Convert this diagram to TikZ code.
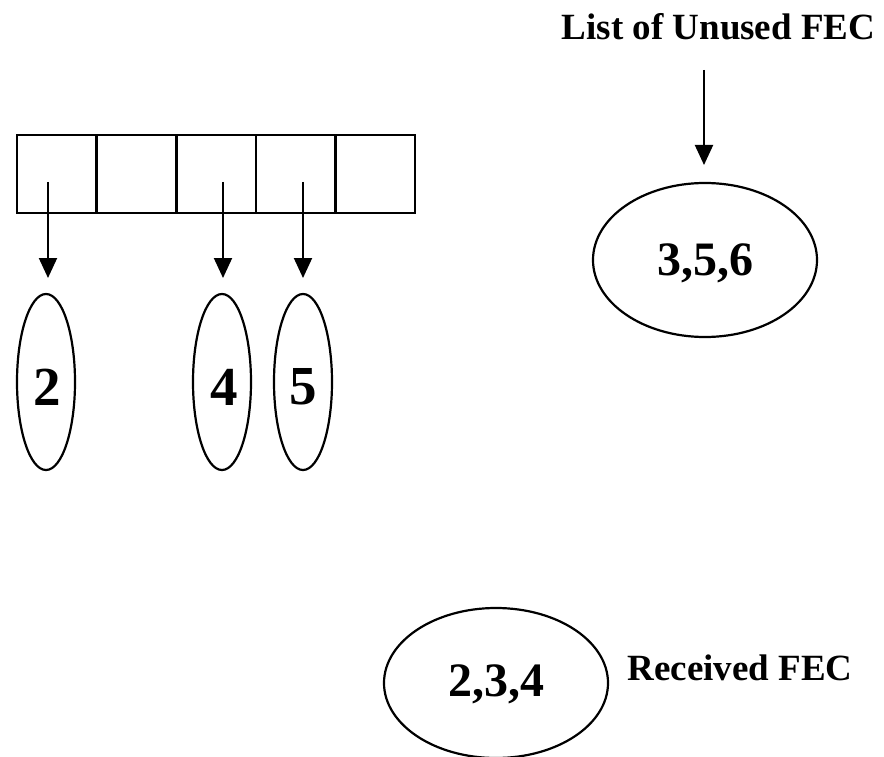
\documentclass[tikz,border=0pt]{standalone}
\usepackage{fontspec}
\setmainfont{Liberation Serif}
\usetikzlibrary{shapes.geometric,arrows.meta}
\begin{document}
\begin{tikzpicture}[x=1pt,y=1pt,
  cell/.style={draw,line width=2.6pt,minimum width=79.6pt,minimum height=78pt,inner sep=0pt},
  oval/.style={draw,ellipse,line width=2.2pt,inner sep=0pt},
  tall/.style={oval,minimum width=58pt,minimum height=176pt},
  wide/.style={oval,minimum width=224pt,minimum height=154pt},
  arr/.style={line width=2pt,-{Triangle[length=20pt,width=18pt]}},
  lbl/.style={font=\fontsize{37}{40}\selectfont\bfseries,inner sep=0pt},
  digit/.style={font=\fontsize{55}{58}\selectfont\bfseries,inner sep=0pt},
  trio/.style={font=\fontsize{48}{50}\selectfont\bfseries,inner sep=0pt}]
\useasboundingbox (0,0) rectangle (884,-757);
% array of cells
\foreach \i/\x in {1/56.8,2/136.4,3/216,4/295.6,5/375.2}
  \node[cell] (c\i) at (\x,-174) {};
% small ellipses
\node[tall] (e2) at (46,-382) {};
\node[tall] (e4) at (222,-382) {};
\node[tall] (e5) at (303,-382) {};
\node[digit] at (47,-387) {2};
\node[digit] at (224,-387) {4};
\node[digit] at (303,-387) {5};
% arrows from cells
\coordinate (s2) at (48,-182);  \coordinate (t2) at (48,-278);
\coordinate (s4) at (223,-182); \coordinate (t4) at (223,-278);
\coordinate (s5) at (303,-182); \coordinate (t5) at (303,-278);
\draw[arr] (s2) -- (t2);
\draw[arr] (s4) -- (t4);
\draw[arr] (s5) -- (t5);
% unused list
\node[lbl] (unused) at (718.5,-27) {List of Unused FEC};
\node[wide] (u) at (705,-260) {};
\node[trio] at (705,-263) {3,5,6};
\coordinate (ua) at (704,-70); \coordinate (ub) at (704,-165);
\draw[arr] (ua) -- (ub);
% received
\node[wide,minimum height=150pt] (r) at (496,-683) {};
\node[trio] at (496,-684) {2,3,4};
\node[lbl] (recv) at (740,-668) {Received FEC};
\end{tikzpicture}
\end{document}
